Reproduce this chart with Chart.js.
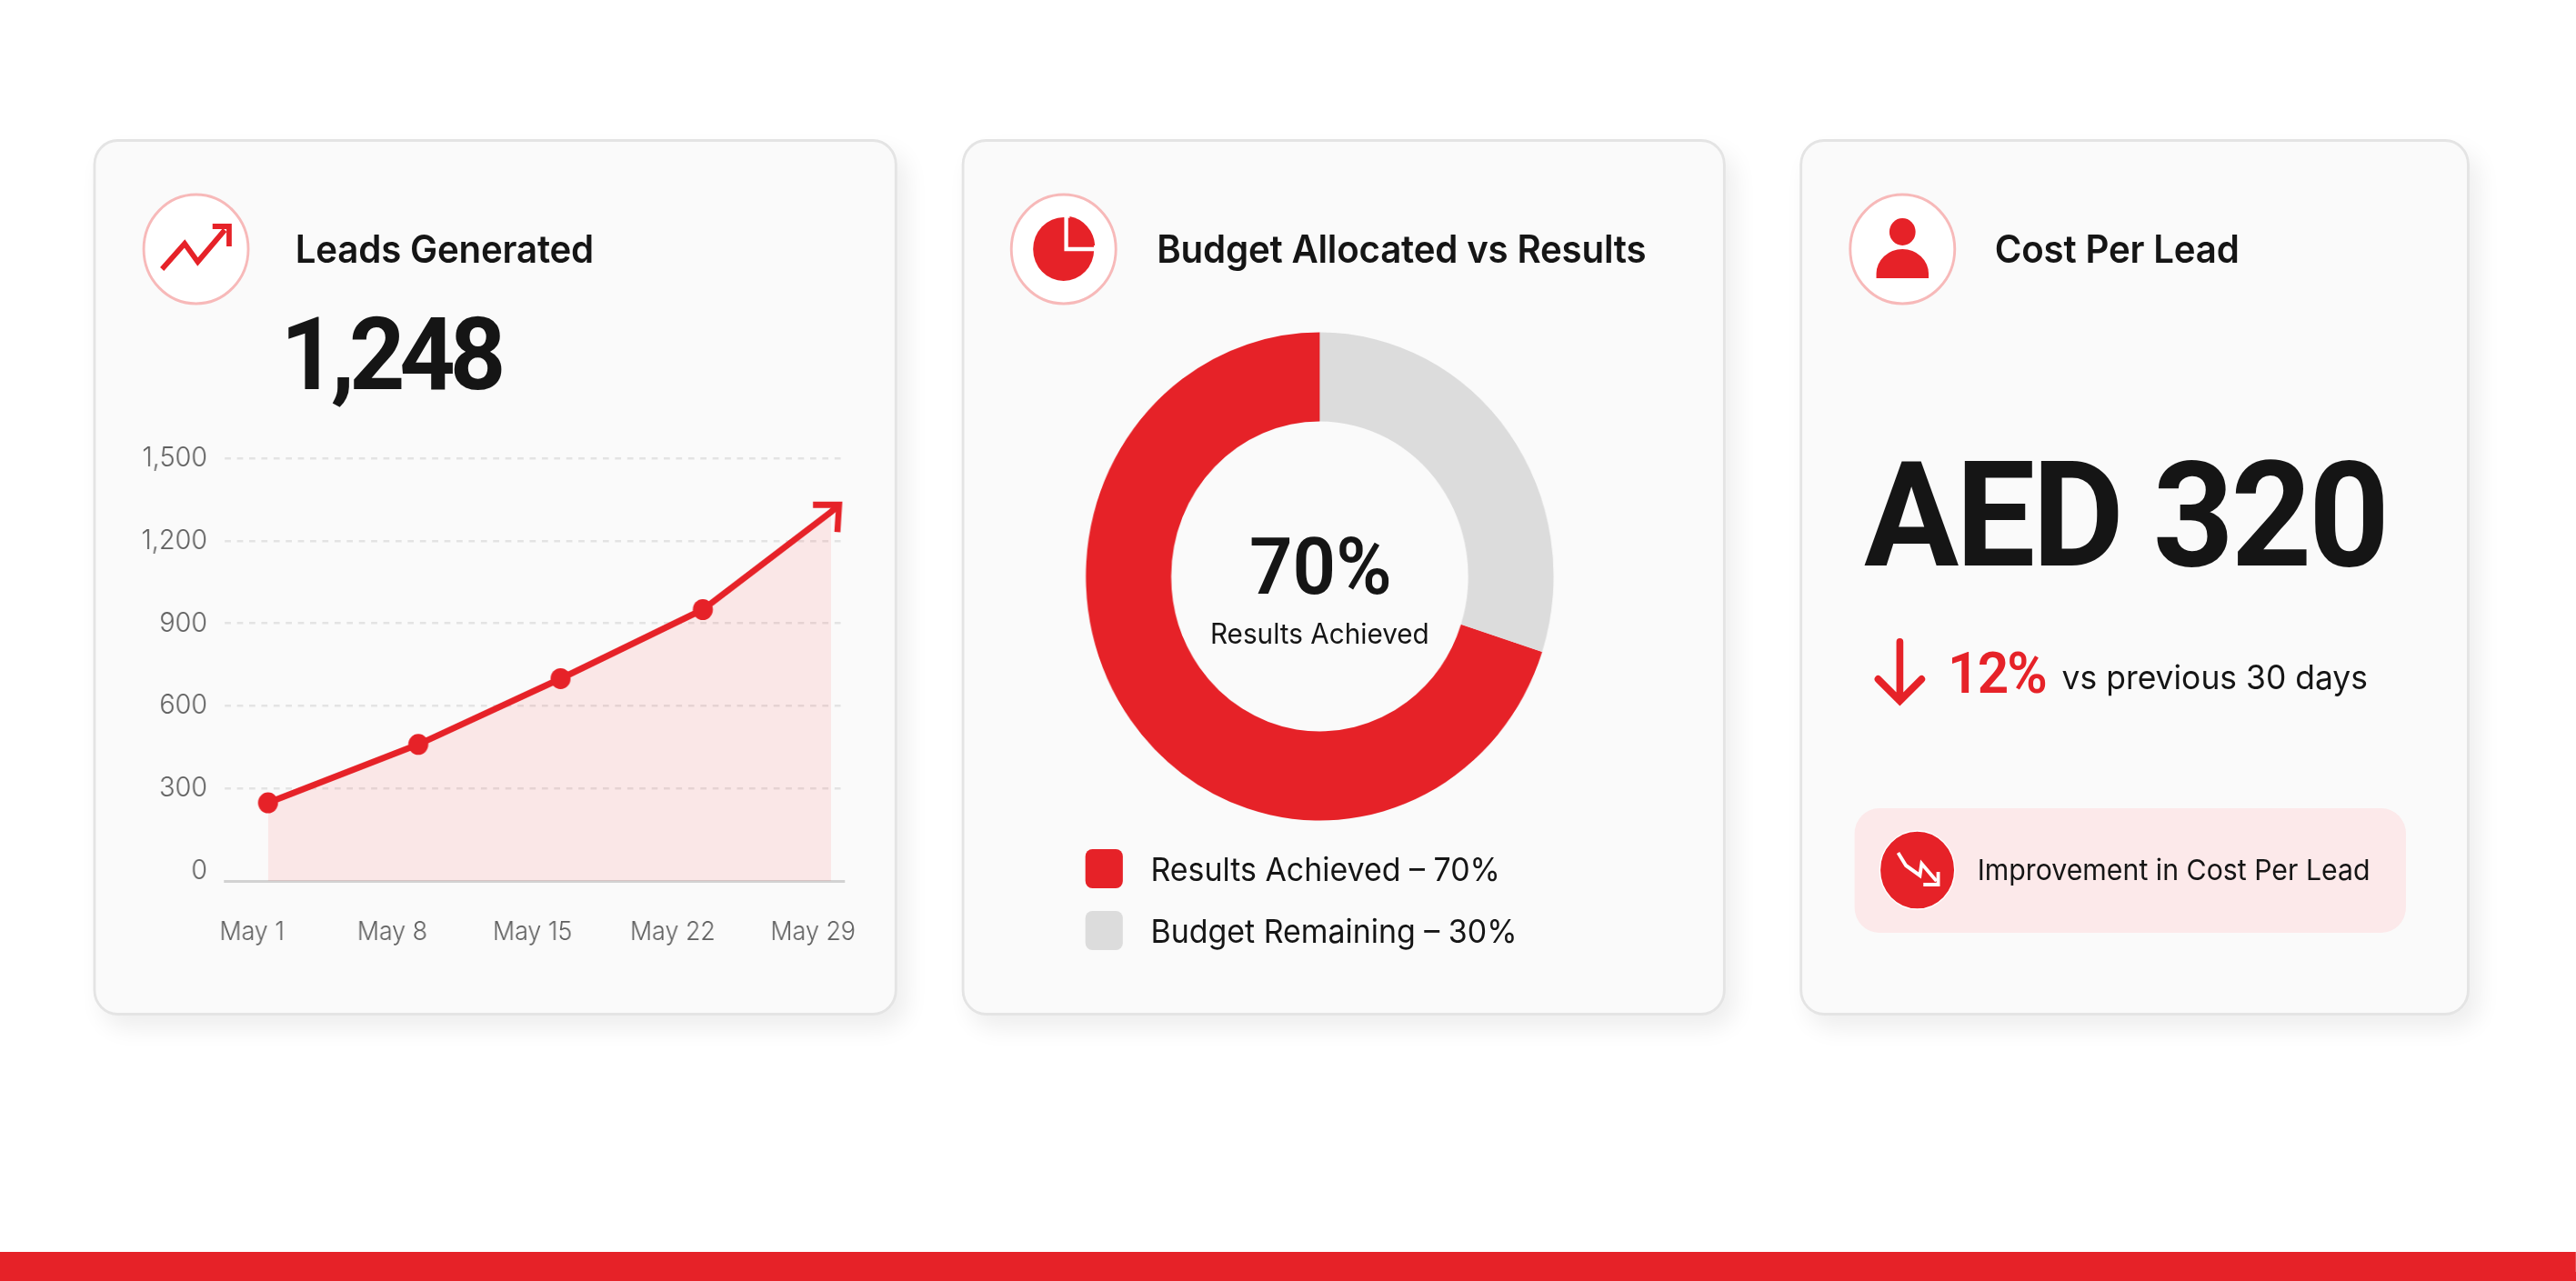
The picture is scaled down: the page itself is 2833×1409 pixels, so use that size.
<!DOCTYPE html>
<html>
<head>
<meta charset="utf-8">
<title>Campaign Dashboard</title>
<script src="https://cdn.jsdelivr.net/npm/chart.js@4"></script>
<style>
  html, body { margin: 0; padding: 0; background: #fff; overflow: hidden; }
  body { width: 2833px; height: 1409px; position: relative; font-family: Inter, sans-serif; }
  /* the whole board is laid out wide and pressed in horizontally */
  #stage { position: absolute; left: 0; top: 0; width: 2957px; height: 1409px; transform: scaleX(0.958); transform-origin: 0 0; }
  #bar { position: absolute; left: 0; top: 1377px; width: 2957px; height: 32px; background: #e62228; }
  .card { position: absolute; top: 153px; height: 964px; box-sizing: border-box; background: #fafafa; border: 3px solid #e4e4e4; border-radius: 28px; box-shadow: 10px 14px 26px rgba(0,0,0,.07); }
  .t { position: absolute; white-space: nowrap; line-height: 1; color: #151515; }
  .title { font-size: 42px; font-weight: 600; letter-spacing: -0.2px; top: 253px; }
  .num { font-family: Roboto, sans-serif; font-weight: 700; }
  .ring { position: absolute; top: 212px; width: 124px; height: 124px; overflow: visible; }
  canvas { position: absolute; }
  .swatch { position: absolute; left: 1246px; width: 43px; height: 43px; border-radius: 8px; }
  #pill { position: absolute; left: 2129px; top: 889px; width: 633px; height: 137px; background: #fce9ea; border-radius: 28px; }
</style>
</head>
<body>
<div id="stage">
  <div class="card" style="left:107px;width:923px"></div>
  <div class="card" style="left:1104px;width:877px"></div>
  <div class="card" style="left:2066px;width:769px"></div>

  <!-- trend icon -->
  <svg class="ring" style="left:163px" viewBox="-62 -62 124 124">
    <circle r="60" fill="#fff" stroke="#f7b9b9" stroke-width="3"/>
    <path d="M-39 22 L-13 -6 L2 14 L33 -21" fill="none" stroke="#e62228" stroke-width="6"/>
    <path d="M19 -25 H38 V-3" fill="none" stroke="#e62228" stroke-width="6"/>
  </svg>
  <div class="t title" style="left:339px">Leads Generated</div>
  <div class="t num" style="left:322px;top:334px;font-size:112px;letter-spacing:-6.5px">1,248</div>
  <canvas id="leadsChart" width="903" height="594" style="left:115px;top:466px"></canvas>

  <!-- pie icon -->
  <svg class="ring" style="left:1159px" viewBox="-62 -62 124 124">
    <circle r="60" fill="#fff" stroke="#f7b9b9" stroke-width="3"/>
    <circle cx="0" r="35" fill="#e62228"/>
    <path d="M3 -42 V0 H42" fill="none" stroke="#fff" stroke-width="4.5"/>
    <path d="M7 -36 A 35 35 0 0 1 36 -4 H7 Z" fill="#e62228"/>
  </svg>
  <div class="t title" style="left:1328px">Budget Allocated vs Results</div>
  <canvas id="budgetChart" width="560" height="560" style="left:1235px;top:354px"></canvas>
  <div class="t num" id="centerValue" style="left:1416px;width:200px;text-align:center;top:580px;font-size:87px;font-weight:600"></div>
  <div class="t" id="centerLabel" style="left:1365px;width:300px;text-align:center;top:681px;font-size:31px;font-weight:400"></div>
  <div class="swatch" id="swatch0" style="top:934px"></div>
  <div class="swatch" id="swatch1" style="top:1002px"></div>
  <div class="t" id="legend0" style="left:1321px;top:939px;font-size:35.4px"></div>
  <div class="t" id="legend1" style="left:1321px;top:1007px;font-size:35.4px"></div>

  <!-- person icon -->
  <svg class="ring" style="left:2122px" viewBox="-62 -62 124 124">
    <circle r="60" fill="#fff" stroke="#f7b9b9" stroke-width="3"/>
    <circle cy="-19" r="15" fill="#e62228"/>
    <path d="M-30 32 V27 A 30 27 0 0 1 30 27 V32 Z" fill="#e62228"/>
  </svg>
  <div class="t title" style="left:2290px">Cost Per Lead</div>
  <div class="t num" style="left:2140px;top:486px;font-size:162px;letter-spacing:-3.5px">AED 320</div>

  <svg style="position:absolute;left:2141px;top:698px;overflow:visible" width="80" height="80" viewBox="-40 -40 80 80">
    <path d="M0 -32 V32 M-25 9 L0 33 L25 9" fill="none" stroke="#e62228" stroke-width="8" stroke-linecap="round"/>
  </svg>
  <div class="t num" style="left:2236px;top:709px;font-size:63px;font-weight:600;letter-spacing:-2px;color:#e62228">12%</div>
  <div class="t" style="left:2367px;top:726px;font-size:37px">vs previous 30 days</div>

  <div id="pill"></div>
  <svg style="position:absolute;left:2156px;top:912px;overflow:visible" width="90" height="90" viewBox="-45 -45 90 90">
    <circle r="43" fill="#e62228" stroke="#fff" stroke-width="1.5"/>
    <path d="M-22 -19 L-13 -5 L3 6 L5 -7 L22 12" fill="none" stroke="#fff" stroke-width="4"/>
    <path d="M7 16 H24 V2" fill="none" stroke="#fff" stroke-width="4"/>
  </svg>
  <div class="t" style="left:2270px;top:941px;font-size:31.6px">Improvement in Cost Per Lead</div>

  <div id="bar"></div>
</div>

<script>
// leads over the month, x is the day of May
var leadDays = [1.8, 9.3, 16.4, 23.5, 29.9, 30.3];
var leadValues = [248, 460, 699, 950, 1305, 1331];
var tickDays = [1, 8, 15, 22, 29];
var tickLabels = ["May 1", "May 8", "May 15", "May 22", "May 29"];
var leadTicks = [0, 300, 600, 900, 1200, 1500];

// budget split
var budgetLabels = ["Results Achieved", "Budget Remaining"];
var budgetValues = [70, 30];
var budgetColors = ["#e62228", "#dcdcdc"];

var RED = "#e62228";

// arrow head on the last point of the line
var arrowHead = {
    id: "arrowHead",
    afterDatasetsDraw: function (chart) {
        var pts = chart.getDatasetMeta(1).data;
        var tip = pts[pts.length - 1];
        var ctx = chart.ctx;
        ctx.save();
        ctx.strokeStyle = RED;
        ctx.lineWidth = 7;
        ctx.beginPath();
        ctx.moveTo(tip.x - 30, tip.y);
        ctx.lineTo(tip.x, tip.y);
        ctx.lineTo(tip.x - 2, tip.y + 30);
        ctx.stroke();
        ctx.restore();
    }
};

var lineData = leadDays.map(function (d, i) { return { x: d, y: leadValues[i] }; });

new Chart(document.getElementById("leadsChart"), {
    type: "line",
    plugins: [arrowHead],
    data: {
        datasets: [
            {
                // shaded area stops a little before the arrow tip
                data: lineData.slice(0, 5),
                order: 2,
                fill: "start",
                backgroundColor: "rgba(255, 70, 70, 0.1)",
                borderWidth: 0,
                pointRadius: 0
            },
            {
                data: lineData,
                order: 1,
                fill: false,
                borderColor: RED,
                borderWidth: 7,
                tension: 0,
                pointBackgroundColor: RED,
                pointBorderWidth: 0,
                pointRadius: [11.5, 11.5, 11.5, 11.5, 0, 0]
            }
        ]
    },
    options: {
        responsive: false,
        animation: false,
        layout: { padding: { right: 49 } },
        plugins: { legend: { display: false }, tooltip: { enabled: false } },
        scales: {
            x: {
                type: "linear",
                min: -0.36,
                max: 30.55,
                afterBuildTicks: function (s) { s.ticks = tickDays.map(function (v) { return { value: v }; }); },
                afterFit: function (s) { s.height = 91; },
                grid: { display: false },
                border: { display: true, color: "#d2d2d2", width: 3 },
                ticks: {
                    autoSkip: false,
                    maxRotation: 0,
                    padding: 32,
                    color: "#606060",
                    font: { family: "Inter", size: 28, weight: 300 },
                    callback: function (v) { return tickLabels[tickDays.indexOf(v)]; }
                }
            },
            y: {
                min: -36,
                max: 1500,
                afterBuildTicks: function (s) { s.ticks = leadTicks.map(function (v) { return { value: v }; }); },
                afterFit: function (s) { s.width = 143; },
                border: { display: false, dash: [7, 7] },
                grid: {
                    drawTicks: false,
                    lineWidth: 2.5,
                    color: function (c) { return c.tick && c.tick.value === 0 ? "transparent" : "#e3e3e3"; }
                },
                ticks: {
                    padding: 20,
                    color: "#606060",
                    font: { family: "Inter", size: 30, weight: 300 },
                    callback: function (v) { return v.toLocaleString("en-US"); }
                }
            }
        }
    }
});

new Chart(document.getElementById("budgetChart"), {
    type: "doughnut",
    data: {
        labels: budgetLabels,
        datasets: [{ data: budgetValues, backgroundColor: budgetColors, borderWidth: 0 }]
    },
    options: {
        responsive: false,
        animation: false,
        cutout: "63.5%",
        rotation: budgetValues[1] / 100 * 360,
        layout: { padding: 11.5 },
        plugins: { legend: { display: false }, tooltip: { enabled: false } }
    }
});

// centre text and legend
document.getElementById("centerValue").textContent = budgetValues[0] + "%";
document.getElementById("centerLabel").textContent = budgetLabels[0];
budgetLabels.forEach(function (name, i) {
    document.getElementById("swatch" + i).style.background = budgetColors[i];
    document.getElementById("legend" + i).textContent = name + " \u2013 " + budgetValues[i] + "%";
});
</script>
</body>
</html>
